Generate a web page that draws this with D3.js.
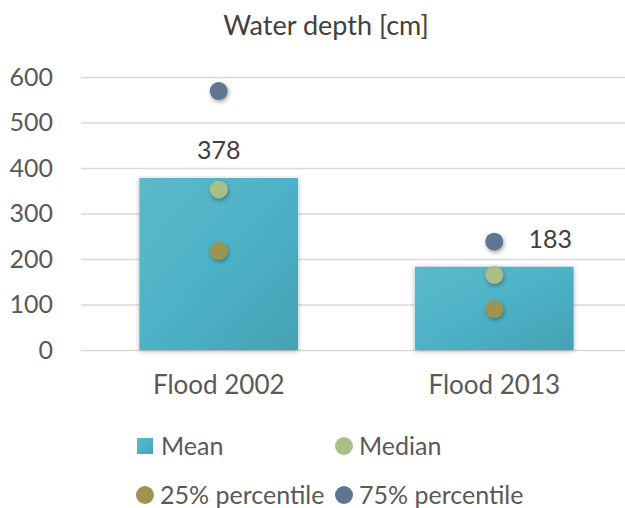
<!DOCTYPE html>
<html><head><meta charset="utf-8">
<script src="https://cdn.jsdelivr.net/npm/d3@7"></script>
<style>
body{margin:0;background:#fff;}
text{font-family:Lato,"Open Sans",sans-serif;}
</style></head>
<body><svg id="c" width="625" height="508"></svg>
<script>
const categories = ["Flood 2002", "Flood 2013"];
const meanValues = [378, 183];
const medianValues = [353, 165];
const p25Values = [218, 90];
const p75Values = [569, 238];
const yTicks = [0, 100, 200, 300, 400, 500, 600];
const seriesNames = ["Mean", "Median", "25% percentile", "75% percentile"];

(function(){
const svg = d3.select("#c");
const defs = svg.append("defs");
const grad = defs.append("linearGradient").attr("id","barGrad")
  .attr("x1","0").attr("y1","0").attr("x2","1").attr("y2","1");
grad.append("stop").attr("offset","0").attr("stop-color","#5cb8cb");
grad.append("stop").attr("offset","0.5").attr("stop-color","#4db2c7");
grad.append("stop").attr("offset","1").attr("stop-color","#45a1b5");
const sh = defs.append("filter").attr("id","sh").attr("x","-30%").attr("y","-30%").attr("width","160%").attr("height","160%");
sh.append("feDropShadow").attr("dx",1).attr("dy",2).attr("stdDeviation",2).attr("flood-color","#000").attr("flood-opacity",0.35);
const shBar = defs.append("filter").attr("id","shBar").attr("x","-10%").attr("y","-10%").attr("width","120%").attr("height","120%");
shBar.append("feDropShadow").attr("dx",0).attr("dy",1).attr("stdDeviation",2.5).attr("flood-color","#000").attr("flood-opacity",0.3);

const mLeft = 81, mRight = 632, mTop = 77, mBottom = 350;
const x = d3.scaleBand().domain(categories).range([mLeft, mRight]).paddingInner(0.424).paddingOuter(0.212);
const y = d3.scaleLinear().domain([0, 600]).range([mBottom, mTop]);

// title
svg.append("text").attr("x", 326).attr("y", 35).attr("text-anchor","middle")
  .attr("font-size", 27).attr("fill","#404040").text("Water depth [cm]");

// gridlines
const grid = svg.append("g").attr("transform",`translate(${mLeft},0)`)
  .call(d3.axisLeft(y).tickValues(yTicks).tickSize(-(625-mLeft)).tickFormat(""));
grid.select(".domain").remove();
grid.selectAll("line").attr("stroke","#d9d9d9").attr("stroke-width",1.3);

// y labels
const ya = svg.append("g").attr("transform",`translate(53,0)`)
  .call(d3.axisLeft(y).tickValues(yTicks).tickSize(0).tickPadding(0));
ya.select(".domain").remove();
ya.selectAll("text").attr("font-size",25).attr("fill","#595959").attr("font-family","Lato");

// bars
svg.append("g").selectAll("rect").data(categories).join("rect")
  .attr("x", d => x(d)).attr("width", x.bandwidth())
  .attr("y", (d,i) => y(meanValues[i])).attr("height", (d,i) => y(0) - y(meanValues[i]))
  .attr("fill","url(#barGrad)").attr("filter","url(#shBar)");

// x labels
const xa = svg.append("g").attr("transform",`translate(0,${mBottom+18})`)
  .call(d3.axisBottom(x).tickSize(0).tickPadding(8));
xa.select(".domain").remove();
xa.selectAll("text").attr("font-size",26).attr("fill","#595959").attr("font-family","Lato");

// dots
const dotSeries = [
  {vals: p75Values, color:"#5f7591"},
  {vals: medianValues, color:"#a8bf85"},
  {vals: p25Values, color:"#9d944f"}
];
dotSeries.forEach(s => {
  svg.append("g").selectAll("circle").data(categories).join("circle")
    .attr("cx", d => x(d) + x.bandwidth()/2)
    .attr("cy", (d,i) => y(s.vals[i]))
    .attr("r", 9).attr("fill", s.color).attr("filter","url(#sh)");
});

// mean labels
svg.append("text").attr("x", x(categories[0]) + x.bandwidth()/2).attr("y", y(meanValues[0]) - 19)
  .attr("text-anchor","middle").attr("font-size",25).attr("fill","#404040").text(meanValues[0]);
svg.append("text").attr("x", x(categories[1]) + x.bandwidth()/2 + 56).attr("y", y(meanValues[1]) - 19)
  .attr("text-anchor","middle").attr("font-size",25).attr("fill","#404040").text(meanValues[1]);

// legend
const leg = [
  {name: seriesNames[0], type:"rect", color:"url(#barGrad)", x:137, y:446},
  {name: seriesNames[1], type:"circle", color:"#a8bf85", x:335, y:446},
  {name: seriesNames[2], type:"circle", color:"#9d944f", x:136, y:495},
  {name: seriesNames[3], type:"circle", color:"#5f7591", x:335, y:495}
];
const lg = svg.append("g").selectAll("g").data(leg).join("g").attr("transform", d => `translate(${d.x},${d.y})`);
lg.filter(d => d.type==="rect").append("rect").attr("x",0).attr("y",-8).attr("width",16).attr("height",16).attr("fill", d => d.color);
lg.filter(d => d.type==="circle").append("circle").attr("cx",9).attr("cy",0).attr("r",9).attr("fill", d => d.color);
lg.append("text").attr("x",24).attr("y",0).attr("dy","0.36em").attr("font-size",25).attr("fill","#595959").text(d => d.name);
})();
</script></body></html>
